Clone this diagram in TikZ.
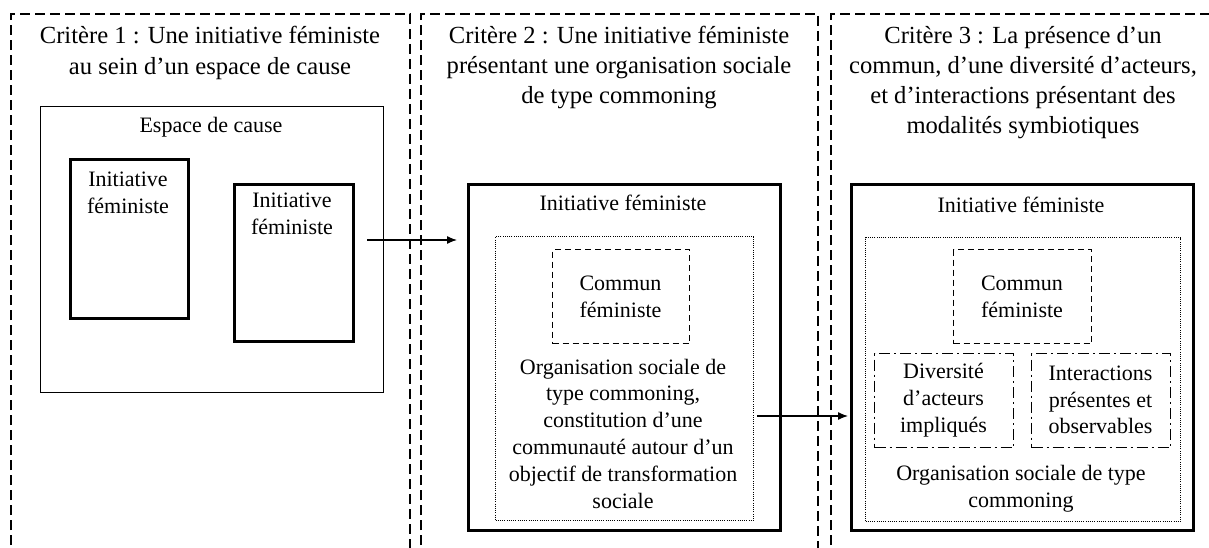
\documentclass[tikz,border=0pt]{standalone}
\usepackage{fontspec}
\setmainfont{Liberation Serif}
\usepackage{tikz}
\usetikzlibrary{positioning, arrows.meta}
\tikzstyle{crit}=[line width=1.3pt, dash pattern=on 10pt off 5pt]
\tikzstyle{titre}=[align=center, font=\fontsize{24.6}{30.2}\selectfont]
\tikzstyle{txt}=[align=center, font=\fontsize{22}{26.8}\selectfont]
\tikzstyle{boite}=[draw, rectangle, inner sep=0pt, anchor=north west]
\tikzstyle{espace}=[boite, line width=1.4pt]
\tikzstyle{ini}=[boite, line width=3.2pt]
\tikzstyle{org}=[boite, line width=1pt, dash pattern=on 1pt off 1.2pt]
\tikzstyle{commun}=[boite, line width=1.4pt, dash pattern=on 6pt off 4pt]
\tikzstyle{acteur}=[boite, line width=1.4pt, dash pattern=on 11pt off 4pt on 2pt off 4pt]

\begin{document}
\begin{tikzpicture}[x=1pt, y=-1pt, >={Latex[length=10pt,width=8pt]}, line width=1.3pt]
    \useasboundingbox (0,0) rectangle (1209,548);

    % les trois criteres
    \draw[crit] (11,560) -- (11,14) -- (410,14) -- (410,560);
    \draw[crit] (421,560) -- (421,14) -- (818,14) -- (818,560);
    \draw[crit] (831,560) -- (831,14) -- (1220,14);
    \node[titre] (t1) at (210,53) {Critère 1 : Une initiative féministe\\au sein d’un espace de cause};
    \node[titre] (t2) at (619,67.5) {Critère 2 : Une initiative féministe\\présentant une organisation sociale\\de type commoning};
    \node[titre] (t3) at (1023,82.5) {Critère 3 : La présence d’un\\commun, d’une diversité d’acteurs,\\et d’interactions présentant des\\modalités symbiotiques};

    % critere 1
    \node[espace, minimum width=343pt, minimum height=286pt] (esp) at (40,106) {};
    \node[txt] (lesp) at (211,127) {Espace de cause};
    \node[ini, minimum width=118pt, minimum height=159pt] (ifa) at (69,158) {};
    \node[txt] (lifa) at (128,192.5) {Initiative\\féministe};
    \node[ini, minimum width=119pt, minimum height=157pt] (ifb) at (233,183) {};
    \node[txt] (lifb) at (292,214) {Initiative\\féministe};

    % critere 2
    \node[ini, minimum width=312pt, minimum height=346pt] (init2) at (467,183) {};
    \node[txt] (linit2) at (623,203) {Initiative féministe};
    \node[org, minimum width=258pt, minimum height=284pt] (org2) at (495,236) {};
    \node[commun, minimum width=137pt, minimum height=94pt] (com2) at (552,249) {};
    \node[txt] (lcom2) at (620.5,296.5) {Commun\\féministe};
    \node[txt] (lorg2) at (623,433.5) {Organisation sociale de\\type commoning,\\constitution d’une\\communauté autour d’un\\objectif de transformation\\sociale};

    % critere 3
    \node[ini, minimum width=342pt, minimum height=346pt] (init3) at (850,183) {};
    \node[txt] (linit3) at (1021,205) {Initiative féministe};
    \node[org, minimum width=315pt, minimum height=284pt] (org3) at (865,237) {};
    \node[commun, minimum width=138pt, minimum height=94pt] (com3) at (953,249) {};
    \node[txt] (lcom3) at (1022,296.5) {Commun\\féministe};
    \node[acteur, minimum width=139pt, minimum height=94pt] (div) at (874,353) {};
    \node[txt] (ldiv) at (943.5,400) {Diversité\\d’acteurs\\impliqués};
    \node[acteur, minimum width=139pt, minimum height=94pt] (inter) at (1031,353) {};
    \node[txt] (linter) at (1100.5,400) {Interactions\\présentes et\\observables};
    \node[txt] (lorg3) at (1021,488.5) {Organisation sociale de type\\commoning};

    % fleches
    \coordinate (a1) at (367,240);
    \coordinate (a2) at (757,416);
    \draw[->, shorten >=10pt] (a1) -- (a1 -| init2.west);
    \draw[->, shorten >=2pt] (a2) -- (a2 -| init3.west);
\end{tikzpicture}
\end{document}
